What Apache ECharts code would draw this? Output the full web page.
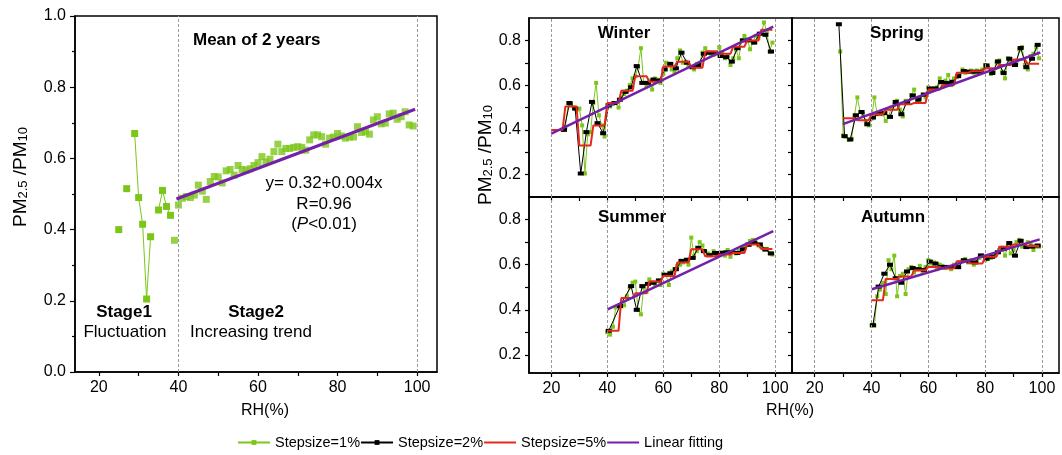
<!DOCTYPE html>
<html><head><meta charset="utf-8">
<script src="https://cdn.jsdelivr.net/npm/echarts@6/dist/echarts.min.js"></script>
<style>html,body{margin:0;padding:0;background:#fff}#c{width:1062px;height:455px}</style>
</head><body><div id="c"></div><script>
const FONT = '"Liberation Sans", Arial, Helvetica, sans-serif';

// ---- tick labels ----
const xTickVals = [20, 30, 40, 50, 60, 70, 80, 90, 100];
const xLabelVals = [20, 40, 60, 80, 100];
const yTickValsRight = [0.2, 0.3, 0.4, 0.5, 0.6, 0.7, 0.8];
const yLabelValsRight = [0.2, 0.4, 0.6, 0.8];
const gridXRight = [20, 40, 60, 80, 100];
const gridXMean = [40, 100];

// ---- Mean of 2 years (1% step) ----
const meanStage1Start = 25;
const meanStage1 = [0.40, null, 0.515, null, 0.67, 0.49, 0.415, 0.205, 0.38, null, 0.455, 0.51, 0.465, 0.44];
const meanStage2Start = 39;
const meanStage2 = [0.37, 0.469, 0.488, 0.493, 0.49, 0.497, 0.525, 0.508, 0.485, 0.535,
  0.549, 0.548, 0.531, 0.565, 0.569, 0.553, 0.58, 0.569, 0.567, 0.571,
  0.58, 0.588, 0.605, 0.59, 0.598, 0.619, 0.64, 0.619, 0.628, 0.628,
  0.631, 0.633, 0.631, 0.623, 0.652, 0.666, 0.666, 0.661, 0.64, 0.657,
  0.66, 0.67, 0.663, 0.657, 0.66, 0.66, 0.689, 0.673, 0.675, 0.668,
  0.708, 0.717, 0.697, 0.699, 0.725, 0.727, 0.71, 0.717, 0.731, 0.694, 0.691];
const meanFitX = [39.5, 99.5];
const meanFitY = [0.486, 0.738];

// ---- Winter ----
const winterGreenStart = 24;
const winterGreen = [0.40, 0.41, 0.52, 0.515, 0.50, 0.49, 0.495, 0.42, 0.205, 0.38,
  0.39, 0.52, 0.61, 0.465, 0.42, 0.37, 0.51, 0.505, 0.515, 0.52,
  0.50, 0.545, 0.56, 0.575, 0.60, 0.63, 0.64, 0.68, 0.765, 0.61,
  0.60, 0.62, 0.58, 0.63, 0.625, 0.61, 0.65, 0.70, 0.695, 0.67,
  0.66, 0.72, 0.755, 0.70, 0.705, 0.69, 0.68, 0.67, 0.695, 0.70,
  0.745, 0.765, 0.745, 0.74, 0.735, 0.74, 0.77, 0.745, 0.72, 0.73,
  0.69, 0.72, 0.76, 0.72, 0.80, 0.82, 0.805, 0.76, 0.79, 0.82,
  0.81, 0.83, 0.88, 0.84, 0.75, 0.79];
const winterBlackStart = 24;
const winterBlack = [0.40, 0.52, 0.495, 0.205, 0.39, 0.525, 0.43, 0.385, 0.51, 0.52,
  0.535, 0.57, 0.59, 0.685, 0.61, 0.61, 0.625, 0.62, 0.67, 0.695,
  0.675, 0.745, 0.70, 0.68, 0.69, 0.74, 0.745, 0.745, 0.73, 0.725,
  0.705, 0.765, 0.80, 0.80, 0.79, 0.83, 0.825, 0.75];
const winterRedStart = 20;
const winterRed = [0.40, 0.505, 0.33, 0.42, 0.52, 0.575, 0.64, 0.615, 0.683, 0.705, 0.678, 0.75, 0.74, 0.772, 0.80, 0.848];
const winterFitX = [20, 99.3];
const winterFitY = [0.383, 0.862];

// ---- Spring ----
const springGreenStart = 29;
const springGreen = [0.75, 0.375, 0.37, 0.355, 0.36, 0.465, 0.545, 0.48, 0.47, 0.44,
  0.42, 0.45, 0.545, 0.47, 0.48, 0.47, 0.44, 0.46, 0.50, 0.51,
  0.53, 0.49, 0.46, 0.53, 0.52, 0.555, 0.58, 0.53, 0.54, 0.56,
  0.545, 0.59, 0.575, 0.585, 0.59, 0.63, 0.60, 0.62, 0.645, 0.60,
  0.63, 0.635, 0.65, 0.67, 0.655, 0.66, 0.665, 0.655, 0.665, 0.66,
  0.67, 0.69, 0.68, 0.65, 0.66, 0.70, 0.71, 0.66, 0.63, 0.72,
  0.71, 0.69, 0.70, 0.76, 0.77, 0.69, 0.67, 0.73, 0.74, 0.77, 0.72];
const springBlackStart = 28;
const springBlack = [0.872, 0.372, 0.357, 0.465, 0.48, 0.425, 0.455, 0.473, 0.475, 0.458,
  0.525, 0.47, 0.525, 0.554, 0.535, 0.557, 0.585, 0.585, 0.614, 0.61,
  0.615, 0.64, 0.663, 0.66, 0.66, 0.66, 0.688, 0.654, 0.706, 0.654,
  0.718, 0.69, 0.766, 0.68, 0.718, 0.78];
const springRedStart = 30;
const springRed = [0.452, 0.443, 0.47, 0.49, 0.515, 0.52, 0.58, 0.60, 0.655, 0.662, 0.675, 0.69, 0.715, 0.695];
const springFitX = [29.9, 99.4];
const springFitY = [0.426, 0.746];

// ---- Summer ----
const summerGreenStart = 40;
const summerGreen = [0.30, 0.29, 0.325, 0.41, 0.415, 0.415, 0.42, 0.46, 0.50, 0.52,
  0.525, 0.40, 0.38, 0.50, 0.48, 0.535, 0.52, 0.51, 0.53, 0.51,
  0.56, 0.555, 0.51, 0.57, 0.58, 0.595, 0.60, 0.61, 0.62, 0.60,
  0.72, 0.64, 0.66, 0.70, 0.685, 0.66, 0.65, 0.645, 0.66, 0.645,
  0.645, 0.655, 0.64, 0.665, 0.635, 0.655, 0.65, 0.66, 0.665, 0.675,
  0.69, 0.705, 0.71, 0.70, 0.685, 0.68, 0.67, 0.67, 0.65, 0.645];
const summerBlackStart = 40;
const summerBlack = [0.307, null, 0.417, null, 0.505, 0.40, 0.505, 0.515, 0.52, 0.53,
  0.555, 0.562, 0.58, 0.617, 0.622, 0.63, 0.675, 0.66, 0.642, 0.652,
  0.652, 0.655, 0.656, 0.652, 0.668, 0.688, 0.696, 0.69, 0.667, 0.65];
const summerRedStart = 40;
const summerRed = [0.307, 0.452, 0.473, 0.525, 0.55, 0.61, 0.668, 0.637, 0.645, 0.652, 0.69, 0.67];
const summerFitX = [40.1, 99.3];
const summerFitY = [0.402, 0.749];

// ---- Autumn ----
const autumnGreenStart = 40;
const autumnGreen = [0.33, 0.33, 0.46, 0.49, 0.52, 0.47, 0.62, 0.58, 0.64, 0.46,
  0.55, 0.56, 0.47, 0.58, 0.59, 0.565, 0.58, 0.595, 0.57, 0.59,
  0.62, 0.605, 0.61, 0.58, 0.60, 0.595, 0.585, 0.59, 0.58, 0.60,
  0.59, 0.61, 0.615, 0.625, 0.61, 0.62, 0.60, 0.615, 0.63, 0.64,
  0.62, 0.635, 0.63, 0.645, 0.65, 0.665, 0.675, 0.64, 0.68, 0.65,
  0.665, 0.70, 0.71, 0.68, 0.685, 0.70, 0.69, 0.665, 0.68, 0.68];
const autumnBlackStart = 40;
const autumnBlack = [0.332, 0.503, 0.56, 0.60, 0.54, 0.52, 0.57, 0.585, 0.58, 0.577,
  0.614, 0.605, 0.59, 0.59, 0.59, 0.589, 0.62, 0.615, 0.61, 0.641,
  0.626, 0.635, 0.655, 0.669, 0.696, 0.64, 0.706, 0.678, 0.68, 0.685];
const autumnRedStart = 40;
const autumnRed = [0.442, 0.537, 0.548, 0.575, 0.59, 0.583, 0.615, 0.605, 0.635, 0.68, 0.69, 0.683];
const autumnFitX = [40.1, 99.2];
const autumnFitY = [0.491, 0.712];

// ---- colours ----
const C_GREEN = '#7cc61a', C_BLACK = '#000000', C_RED = '#e8281c', C_PURPLE = '#7420a8';

// ---- helpers building data from the arrays ----
const seq = (start, step, vals) => vals.map((v, i) => [start + step * i, v]);
const steps = (start, vals) => { const o = []; vals.forEach((v, i) => { const s = start + 5 * i; o.push([s, v], [s + 4, v]); }); return o; };
const pairs = (xs, ys) => xs.map((x, i) => [x, ys[i]]);

const seasons = [
  { g: 1, green: seq(winterGreenStart, 1, winterGreen), black: seq(winterBlackStart + 0.5, 2, winterBlack), red: steps(winterRedStart, winterRed), fit: pairs(winterFitX, winterFitY) },
  { g: 2, green: seq(springGreenStart, 1, springGreen), black: seq(springBlackStart + 0.5, 2, springBlack), red: steps(springRedStart, springRed), fit: pairs(springFitX, springFitY) },
  { g: 3, green: seq(summerGreenStart, 1, summerGreen), black: seq(summerBlackStart + 0.5, 2, summerBlack), red: steps(summerRedStart, summerRed), fit: pairs(summerFitX, summerFitY) },
  { g: 4, green: seq(autumnGreenStart, 1, autumnGreen), black: seq(autumnBlackStart + 0.5, 2, autumnBlack), red: steps(autumnRedStart, autumnRed), fit: pairs(autumnFitX, autumnFitY) }
];

const AX = { color: '#000', width: 1.5 };
const gridBox = { show: true, borderColor: '#000', borderWidth: 1.5, backgroundColor: 'transparent' };
const grids = [
  Object.assign({ left: 75, top: 16, width: 362, height: 356 }, gridBox),
  Object.assign({ left: 529, top: 18, width: 263, height: 179 }, gridBox),
  Object.assign({ left: 792, top: 18, width: 267, height: 179 }, gridBox),
  Object.assign({ left: 529, top: 197, width: 263, height: 176 }, gridBox),
  Object.assign({ left: 792, top: 197, width: 267, height: 176 }, gridBox)
];

function xAxisFor(g, min, max, showLabel) {
  return {
    gridIndex: g, type: 'value', min: min, max: max,
    axisLine: { show: true, lineStyle: AX },
    axisTick: { show: true, length: 4, lineStyle: { color: '#000', width: 1.2 }, customValues: xTickVals },
    axisLabel: { show: showLabel, customValues: xLabelVals, fontSize: 16, fontFamily: FONT, color: '#000', margin: 8 },
    splitLine: { show: false }
  };
}
function yAxisRight(g, min, showLabel) {
  return {
    gridIndex: g, type: 'value', min: min, max: 0.9,
    axisLine: { show: true, lineStyle: AX },
    axisTick: { show: true, length: 4, lineStyle: { color: '#000', width: 1.2 }, customValues: yTickValsRight },
    axisLabel: { show: showLabel, customValues: yLabelValsRight, formatter: v => v.toFixed(1), fontSize: 16, fontFamily: FONT, color: '#000', margin: 8 },
    splitLine: { show: false }
  };
}

const xAxes = [
  xAxisFor(0, 14, 105, true),
  xAxisFor(1, 12, 106, false),
  xAxisFor(2, 12, 106, false),
  xAxisFor(3, 12, 106, true),
  xAxisFor(4, 12, 106, true)
];
const yAxes = [
  {
    gridIndex: 0, type: 'value', min: 0, max: 1, interval: 0.2,
    axisLine: { show: true, lineStyle: AX },
    axisTick: { show: true, length: 5, lineStyle: { color: '#000', width: 1.2 } },
    minorTick: { show: true, splitNumber: 2, length: 3, lineStyle: { color: '#000', width: 1.2 } },
    axisLabel: { formatter: v => v.toFixed(1), fontSize: 16, fontFamily: FONT, color: '#000', margin: 9 },
    splitLine: { show: false }
  },
  yAxisRight(1, 0.1, true),
  yAxisRight(2, 0.1, false),
  yAxisRight(3, 0.12, true),
  yAxisRight(4, 0.12, false)
];

const vlines = (g, xs) => ({
  type: 'line', xAxisIndex: g, yAxisIndex: g, data: [], silent: true, z: 1,
  markLine: { silent: true, symbol: 'none', animation: false, label: { show: false },
    lineStyle: { type: [3, 2], color: '#9a9a9a', width: 1 }, data: xs.map(x => ({ xAxis: x })) }
});

const series = [];
seasons.forEach(s => {
  series.push({ name: 'Stepsize=1%', type: 'line', xAxisIndex: s.g, yAxisIndex: s.g, data: s.green,
    symbol: 'rect', symbolSize: 4, showSymbol: true, lineStyle: { color: C_GREEN, width: 1 }, itemStyle: { color: C_GREEN }, z: 3 });
  series.push({ name: 'Stepsize=2%', type: 'line', xAxisIndex: s.g, yAxisIndex: s.g, data: s.black, connectNulls: true,
    symbol: 'rect', symbolSize: [6, 4], lineStyle: { color: C_BLACK, width: 1 }, itemStyle: { color: C_BLACK }, z: 4 });
  series.push({ name: 'Stepsize=5%', type: 'line', xAxisIndex: s.g, yAxisIndex: s.g, data: s.red,
    symbol: 'none', lineStyle: { color: C_RED, width: 2 }, itemStyle: { color: C_RED }, z: 5 });
  series.push({ name: 'Linear fitting', type: 'line', xAxisIndex: s.g, yAxisIndex: s.g, data: s.fit,
    symbol: 'none', lineStyle: { color: C_PURPLE, width: 2.5 }, itemStyle: { color: C_PURPLE }, z: 6 });
  series.push(vlines(s.g, gridXRight));
});
// left panel
series.push(vlines(0, gridXMean));
series.push({ name: 'Stepsize=1%', type: 'line', xAxisIndex: 0, yAxisIndex: 0, data: seq(meanStage1Start, 1, meanStage1),
  symbol: 'rect', symbolSize: 7, lineStyle: { color: C_GREEN, width: 1 }, itemStyle: { color: C_GREEN }, z: 3 });
series.push({ name: 'Stepsize=1%', type: 'scatter', xAxisIndex: 0, yAxisIndex: 0, data: seq(meanStage2Start, 1, meanStage2),
  symbol: 'rect', symbolSize: 7, itemStyle: { color: C_GREEN }, z: 3 });
series.push({ name: 'Linear fitting', type: 'line', xAxisIndex: 0, yAxisIndex: 0, data: pairs(meanFitX, meanFitY),
  symbol: 'none', lineStyle: { color: C_PURPLE, width: 3 }, itemStyle: { color: C_PURPLE }, z: 6 });

const txt = (x, y, text, size, bold, align, extra) => ({
  type: 'text', x: x, y: y, silent: true, z: 100,
  style: Object.assign({ text: text, fill: '#000', font: (bold ? 'bold ' : '') + size + 'px ' + FONT,
    textAlign: align || 'center', textVerticalAlign: 'middle' }, extra || {})
});
const pmRich = {
  a: { fontSize: 19, fontFamily: FONT, lineHeight: 22, verticalAlign: 'bottom', fill: '#000' },
  s: { fontSize: 13, fontFamily: FONT, lineHeight: 10, verticalAlign: 'bottom', fill: '#000' }
};
const pmLabel = (x, y) => ({
  type: 'text', x: x, y: y, rotation: Math.PI / 2, silent: true, z: 100,
  style: { text: '{a|PM}{s|2.5}{a| /PM}{s|10}', rich: pmRich, fill: '#000', textAlign: 'center', textVerticalAlign: 'middle' }
});

const graphic = [
  txt(193, 40, 'Mean of 2 years', 17, true, 'left'),
  txt(324, 183, 'y= 0.32+0.004x', 17, false),
  txt(324, 204, 'R=0.96', 17, false),
  { type: 'text', x: 324, y: 224, silent: true, z: 100,
    style: { text: '({i|P}<0.01)', fill: '#000', font: '17px ' + FONT, textAlign: 'center', textVerticalAlign: 'middle',
      rich: { i: { fontStyle: 'italic', fontSize: 17, fontFamily: FONT, fill: '#000' } } } },
  txt(124, 312, 'Stage1', 17, true),
  txt(125, 332, 'Fluctuation', 17, false),
  txt(256, 312, 'Stage2', 17, true),
  txt(251, 332, 'Increasing trend', 17, false),
  txt(265, 411, 'RH(%)', 16, false),
  txt(790, 411, 'RH(%)', 16, false),
  txt(624, 33, 'Winter', 17, true),
  txt(897, 33, 'Spring', 17, true),
  txt(632, 217, 'Summer', 17, true),
  txt(893, 217, 'Autumn', 17, true),
  pmLabel(19, 177),
  pmLabel(484, 155)
];

const chart = echarts.init(document.getElementById('c'), null, { renderer: 'canvas' });
chart.setOption({
  animation: false,
  backgroundColor: '#fff',
  grid: grids,
  xAxis: xAxes,
  yAxis: yAxes,
  series: series,
  graphic: graphic,
  legend: {
    data: [
      { name: 'Stepsize=1%' },
      { name: 'Stepsize=2%' },
      { name: 'Stepsize=5%', itemStyle: { opacity: 0 } },
      { name: 'Linear fitting', itemStyle: { opacity: 0 } }
    ],
    left: 232, top: 430, itemWidth: 32, itemHeight: 6, itemGap: 0,
    textStyle: { fontSize: 14.5, fontFamily: FONT, color: '#000' }
  }
});
</script></body></html>
